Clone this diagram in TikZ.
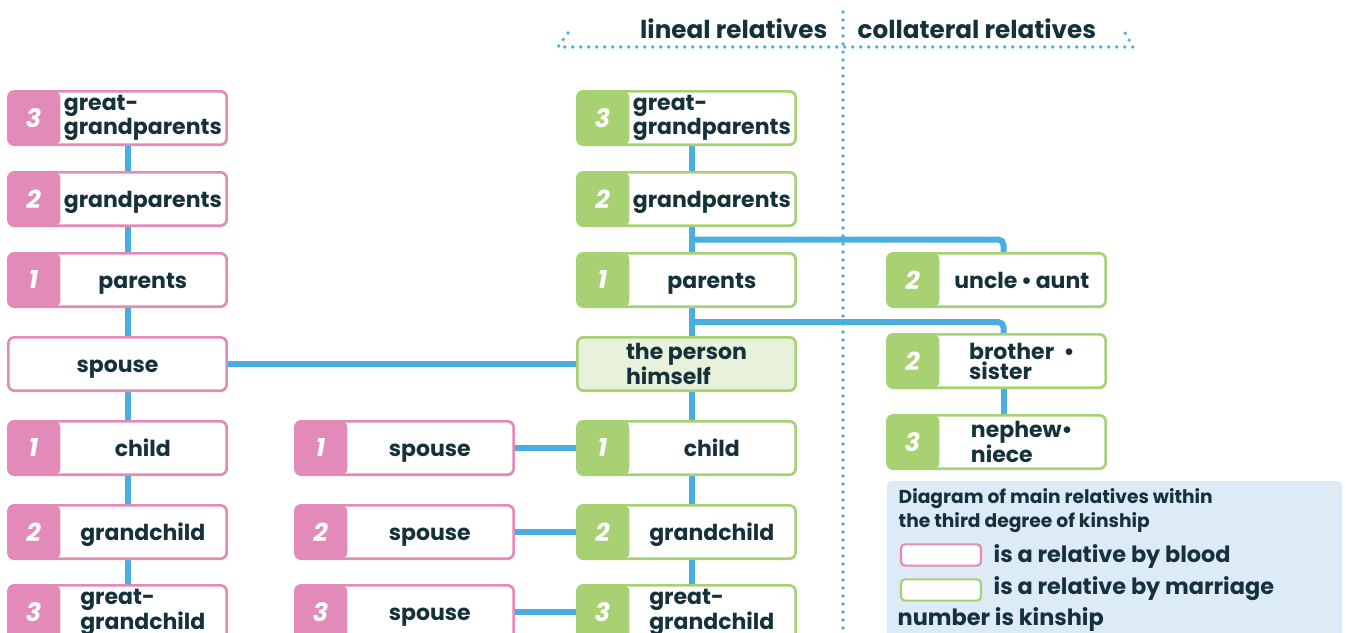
\documentclass[tikz,border=0pt]{standalone}
\usepackage{fontspec}
\setmainfont{Poppins}
\usetikzlibrary{backgrounds,calc}

\definecolor{kinpink}{HTML}{E28BB9}
\definecolor{kingreen}{HTML}{A8D174}
\definecolor{kinblue}{HTML}{4BAEE1}
\definecolor{kintext}{HTML}{15313A}
\definecolor{selffill}{HTML}{E8F1DC}
\definecolor{legfill}{HTML}{DCEBF6}

\newcommand\kinfont{\fontsize{16.5}{15}\selectfont\bfseries}

\tikzset{
  kin/.style={draw, rounded corners=4.5pt, line width=2pt, fill=white, minimum width=163.7pt, minimum height=40pt, inner sep=0pt, text=kintext, font=\kinfont, align=left},
  oneline/.style={text height=14.8pt, text depth=2pt},
  blood/.style={kin, draw=kinpink, path picture={\fill[kinpink] (path picture bounding box.south west) rectangle ([xshift=39pt]path picture bounding box.north west);}},
  marriage/.style={kin, draw=kingreen, path picture={\fill[kingreen] (path picture bounding box.south west) rectangle ([xshift=39pt]path picture bounding box.north west);}},
  kindeg/.style={label={[degnum]center:#1}},
  kinwho/.style={label={[kinname, oneline]center:{#1}}},
  kinwhotwo/.style={label={[kinname]center:{#1}}},
  degnum/.style={xshift=-63pt, text=white, font=\fontsize{19}{19}\selectfont\bfseries\itshape},
  kinname/.style={xshift=19pt, align=left, text=kintext, font=\kinfont},
  link/.style={draw=kinblue, line width=4.5pt},
  divider/.style={kinblue, line width=2.8pt, line cap=round, dash pattern=on 0pt off 6pt},
  head/.style={text=kintext, font=\fontsize{18.5}{18.5}\selectfont\bfseries},
  legend/.style={fill=legfill, rounded corners=3pt, minimum width=341pt, minimum height=119pt, inner sep=0pt},
  legtitle/.style={text=kintext, align=left, font=\fontsize{14}{17.5}\selectfont\bfseries},
  legtext/.style={text=kintext, font=\fontsize{16.8}{16.8}\selectfont\bfseries},
  swatch/.style={draw, fill=white, rounded corners=3pt, line width=1.6pt, minimum width=60pt, minimum height=16pt, inner sep=0pt},
}

\begin{document}
\begin{tikzpicture}[x=0.75pt, y=-0.75pt]
\useasboundingbox (0,0) rectangle (1346,632);

% header
\draw[divider] (843,12) -- (843,640);
\draw[divider] (568,33) -- (558,47) -- (1133,47) -- (1125,33);
\node[head, anchor=east] (lineal) at (832,29) {lineal relatives};
\node[head, anchor=west] (collat) at (853,29) {collateral relatives};

% blood relatives of the spouse
\node[blood, kindeg=3, kinwhotwo={great-\\grandparents}] (lggp) at (117.5,118) {};
\node[blood, kindeg=2, kinwho=grandparents] (lgp) at (117.5,199) {};
\node[blood, kindeg=1, kinwho=parents] (lpar) at (117.5,280) {};
\node[kin, oneline, draw=kinpink] (lsp) at (117.5,364) {spouse};
\node[blood, kindeg=1, kinwho=child] (lch) at (117.5,448) {};
\node[blood, kindeg=2, kinwho=grandchild] (lgch) at (117.5,532) {};
\node[blood, kindeg=3, kinwhotwo={great-\\grandchild}] (lggch) at (117.5,612) {};

% spouses of descendants
\node[blood, kindeg=1, kinwho=spouse] (sp1) at (404.5,448) {};
\node[blood, kindeg=2, kinwho=spouse] (sp2) at (404.5,532) {};
\node[blood, kindeg=3, kinwho=spouse] (sp3) at (404.5,612) {};

% lineal line
\node[marriage, kindeg=3, kinwhotwo={great-\\grandparents}] (mggp) at (686.5,118) {};
\node[marriage, kindeg=2, kinwho=grandparents] (mgp) at (686.5,199) {};
\node[marriage, kindeg=1, kinwho=parents] (mpar) at (686.5,280) {};
\node[kin, draw=kingreen, fill=selffill] (self) at (686.5,364) {the person\\himself};
\node[marriage, kindeg=1, kinwho=child] (mch) at (686.5,448) {};
\node[marriage, kindeg=2, kinwho=grandchild] (mgch) at (686.5,532) {};
\node[marriage, kindeg=3, kinwhotwo={great-\\grandchild}] (mggch) at (686.5,612) {};

% collateral line
\node[marriage, kindeg=2, kinwho=uncle\,•\,aunt] (uncle) at (996.5,280) {};
\node[marriage, kindeg=2, kinwhotwo={brother\ \ •\\sister}] (sibling) at (996.5,361) {};
\node[marriage, kindeg=3, kinwhotwo={nephew•\\niece}] (nephew) at (996.5,442) {};

% legend
\node[legend] (legbox) at (1114.5,560.5) {};
\node[legtitle, anchor=north west] (legtitle) at (894,484) {Diagram of main relatives within\\the third degree of kinship};
\node[swatch, draw=kinpink] (kblood) at (941,555) {};
\node[legtext, anchor=west] (tblood) at (989,556) {is a relative by blood};
\node[swatch, draw=kingreen] (kmarr) at (941,590) {};
\node[legtext, anchor=west] (tmarr) at (989,589) {is a relative by marriage};
\node[legtext, anchor=west] (tnum) at (893,619) {number is kinship};

\begin{scope}[on background layer]
  \draw[link] ($(lggp.center)+(10,0)$) -- ($(lggch.center)+(10,0)$);
  \draw[link] ($(mggp.center)+(5,0)$) -- ($(mggch.center)+(5,0)$);
  \draw[link, rounded corners=4pt] ($(mgp.south)!.5!(mpar.north)+(5,0)$) -| ($(uncle.center)+(7,0)$);
  \draw[link, rounded corners=4pt] ($(mpar.south)!.5!(self.north)+(5,0)$) -| ($(sibling.center)+(7,0)$);
  \draw[link] ($(sibling.center)+(7,0)$) -- ($(nephew.center)+(7,0)$);
  \draw[link] (lsp) -- (self);
  \draw[link] (sp1) -- (mch);
  \draw[link] (sp2) -- (mgch);
  \draw[link] (sp3) -- (mggch);
\end{scope}
\end{tikzpicture}
\end{document}
